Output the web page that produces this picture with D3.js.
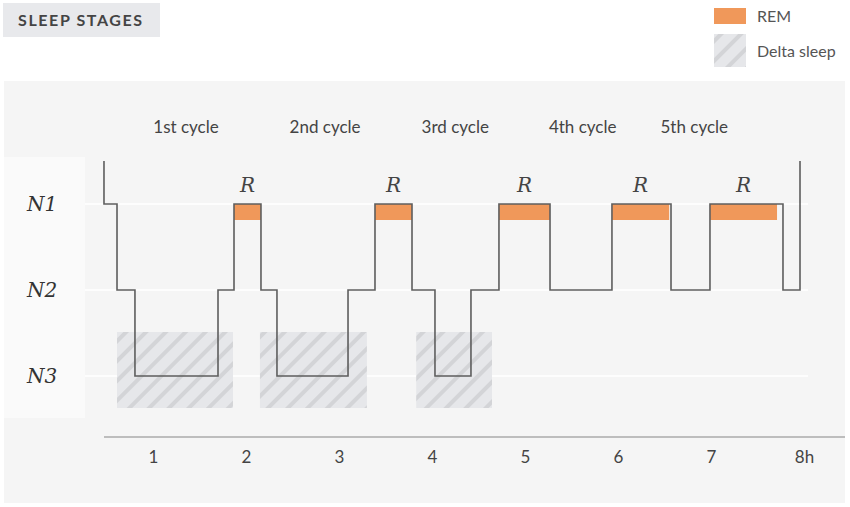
<!DOCTYPE html>
<html><head><meta charset="utf-8">
<script src="https://cdn.jsdelivr.net/npm/d3@7"></script>
<style>body{margin:0;background:#fff;font-family:Lato,"Open Sans",sans-serif}</style>
</head><body><svg id="c" width="850" height="507"></svg>
<script>
// hypnogram: [hour, stage] step points (stage 0.5 = awake edge, 1 N1, 2 N2, 3 N3)
var steps = [[0.473,0.5],[0.473,1],[0.613,2],[0.806,3],[1.699,2],[1.871,1],[2.161,2],[2.333,3],[3.097,2],[3.387,1],
  [3.785,2],[4.032,3],[4.419,2],[4.72,1],[5.269,2],[5.935,1],[6.57,2],[6.989,1],[7.774,2],[7.957,0.5]];
var remBars = [[1.871,2.161],[3.387,3.785],[4.72,5.269],[5.935,6.55],[6.989,7.71]];
var deltaBoxes = [[0.613,1.86],[2.15,3.30],[3.83,4.645]];
var cycles = ["1st cycle","2nd cycle","3rd cycle","4th cycle","5th cycle"];
var cycleX = [1.355,2.85,4.25,5.62,6.82];
var stages = ["N1","N2","N3"];
var hours = [1,2,3,4,5,6,7,8];

var svg = d3.select('#c');
var x = d3.scaleLinear().domain([0,8]).range([60,804]);
var y = d3.scaleLinear().domain([1,3]).range([204,376]);

var defs = svg.append('defs');
var pat = defs.append('pattern').attr('id','hatch').attr('patternUnits','userSpaceOnUse')
  .attr('width',14).attr('height',14).attr('patternTransform','rotate(45)');
pat.append('rect').attr('width',14).attr('height',14).attr('fill','#e6e7ea');
pat.append('rect').attr('width',4).attr('height',14).attr('fill','#d3d4d7');

// title
svg.append('rect').attr('x',3).attr('y',3).attr('width',157).attr('height',34).attr('fill','#e8e9ec');
svg.append('text').attr('x',18).attr('y',26).text('SLEEP STAGES').attr('fill','#444')
  .attr('font-size',16).attr('font-weight','bold').attr('letter-spacing',1.6);

// legend
svg.append('rect').attr('x',714).attr('y',8).attr('width',32).attr('height',16).attr('fill','#f0985a');
svg.append('text').attr('x',757).attr('y',22).text('REM').attr('fill','#555').attr('font-size',16);
svg.append('rect').attr('x',714).attr('y',34).attr('width',32).attr('height',33).attr('fill','url(#hatch)');
svg.append('text').attr('x',757).attr('y',57).text('Delta sleep').attr('fill','#555').attr('font-size',16);

// panels
svg.append('rect').attr('x',4).attr('y',81).attr('width',841).attr('height',422).attr('fill','#f5f5f5');
svg.append('rect').attr('x',4).attr('y',157).attr('width',81).attr('height',261).attr('fill','#fafafa');

// gridlines
svg.selectAll('.grid').data(stages).enter().append('line')
  .attr('x1',85).attr('x2',808).attr('y1',function(d,i){return y(i+1);}).attr('y2',function(d,i){return y(i+1);})
  .attr('stroke','#fff').attr('stroke-width',1.5);

svg.selectAll('.stg').data(stages).enter().append('text')
  .attr('x',42).attr('y',function(d,i){return y(i+1)+7;}).attr('text-anchor','middle')
  .attr('font-family','"DejaVu Serif",serif').attr('font-style','italic').attr('font-size',20).attr('fill','#333')
  .text(function(d){return d;});

// delta boxes
svg.selectAll('.delta').data(deltaBoxes).enter().append('rect')
  .attr('x',function(d){return x(d[0]);}).attr('width',function(d){return x(d[1])-x(d[0]);})
  .attr('y',332).attr('height',76).attr('fill','url(#hatch)');

// REM bars
svg.selectAll('.rem').data(remBars).enter().append('rect')
  .attr('x',function(d){return x(d[0]);}).attr('width',function(d){return x(d[1])-x(d[0]);})
  .attr('y',y(1)).attr('height',16).attr('fill','#f0985a');
svg.selectAll('.rl').data(remBars).enter().append('text')
  .attr('x',function(d){return x((d[0]+d[1])/2);}).attr('y',192).attr('text-anchor','middle')
  .attr('font-family','"DejaVu Serif",serif').attr('font-style','italic').attr('font-size',20).attr('fill','#444')
  .text('R');

// hypnogram
var line = d3.line().curve(d3.curveStepAfter).x(function(d){return x(d[0]);}).y(function(d){return y(d[1]);});
svg.append('path').datum(steps).attr('d',line).attr('fill','none').attr('stroke','#5e5e5e').attr('stroke-width',1.6);

// cycles
svg.selectAll('.cy').data(cycles).enter().append('text')
  .attr('x',function(d,i){return x(cycleX[i]);}).attr('y',133).attr('text-anchor','middle')
  .attr('font-size',17).attr('fill','#444').text(function(d){return d;});

// x axis
var ax = svg.append('g').attr('transform','translate(0,437)')
  .call(d3.axisBottom(x).tickValues(hours).tickSize(0).tickPadding(14).tickFormat(function(d){return d===8?'8h':d;}));
ax.select('.domain').attr('d','M104,0H845').attr('stroke','#aaa').attr('stroke-width',1.5);
ax.selectAll('text').attr('font-size',17).attr('fill','#444').attr('font-family','Lato,sans-serif');
</script></body></html>
